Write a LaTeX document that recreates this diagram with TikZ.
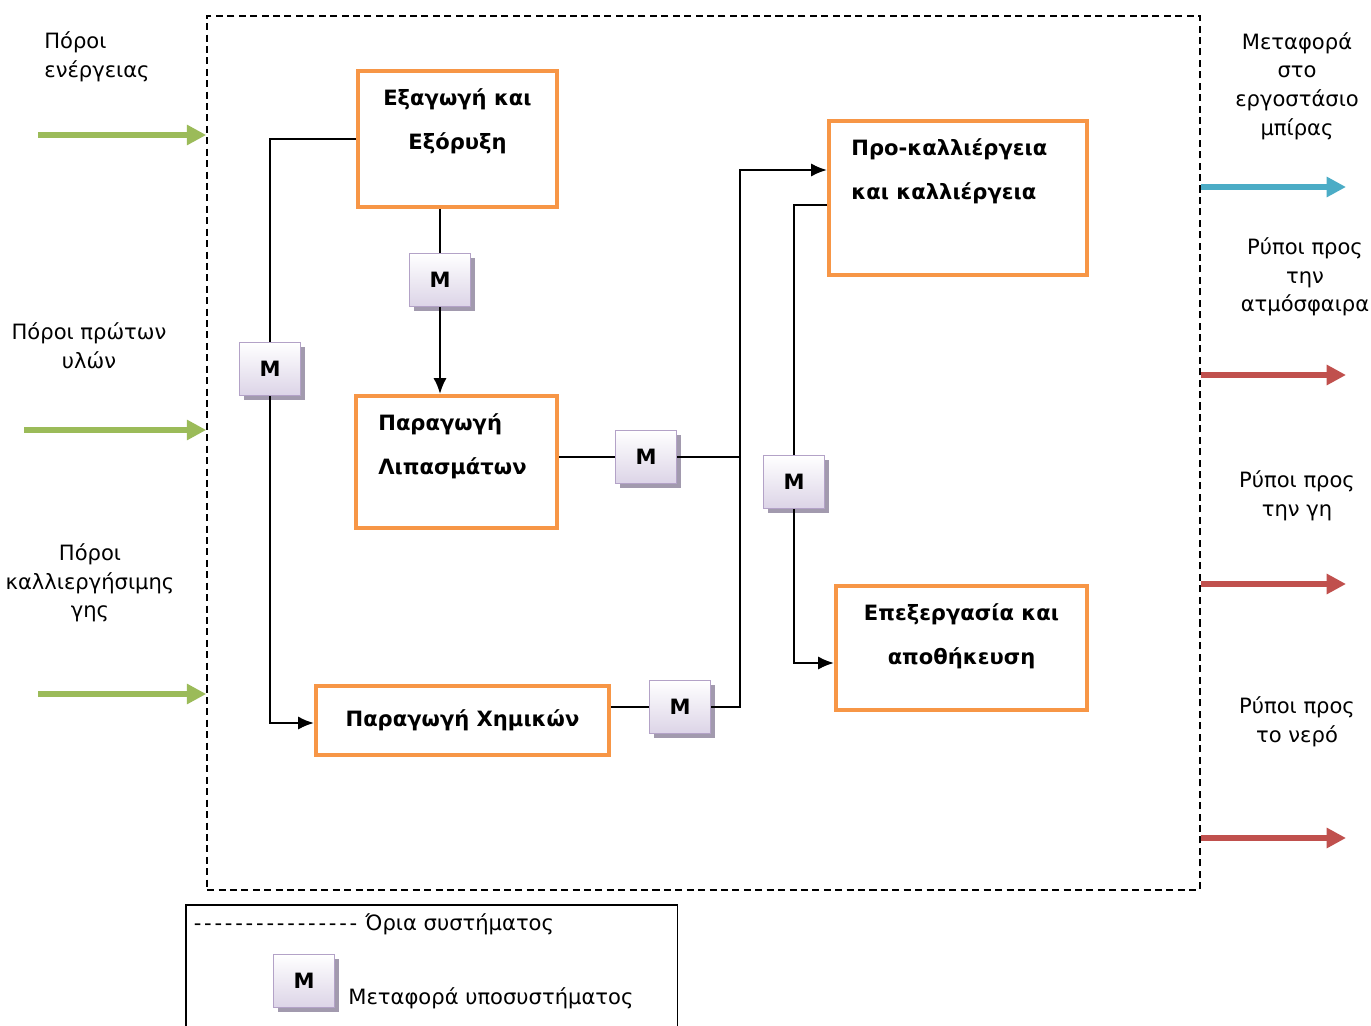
\documentclass[tikz,border=0pt]{standalone}
\usepackage{fontspec}
\setmainfont{DejaVu Sans}
\usetikzlibrary{arrows.meta, positioning, shadows}
\definecolor{stageorange}{HTML}{F79646}
\definecolor{mborder}{HTML}{B3A2C7}
\definecolor{mlow}{HTML}{DCD4E7}
\definecolor{mshadow}{HTML}{A29AAE}
\definecolor{ingreen}{HTML}{9BBB59}
\definecolor{outblue}{HTML}{4BACC6}
\definecolor{outred}{HTML}{C0504D}
\newcommand{\legdash}{\makebox[0.208cm]{-}}
\tikzset{
  stage/.style={rectangle,draw=stageorange,line width=2.3pt,inner sep=0pt},
  stagelabel/.style={font=\fontsize{12}{25}\selectfont\bfseries,align=center,inner sep=0pt},
  mbox/.style={rectangle,draw=mborder,line width=1pt,top color=white,bottom color=mlow,
    minimum width=1.22cm,minimum height=1.06cm,font=\fontsize{12}{15}\selectfont\bfseries,
    drop shadow={shadow xshift=0.09cm,shadow yshift=-0.09cm,fill=mshadow,opacity=1}},
  link/.style={line width=1.3pt},
  line/.style={link,-{Latex[length=9pt,width=7.5pt]}},
  flow/.style={-{Triangle[length=11pt,width=11pt]},line width=3.2pt},
  side/.style={align=center,inner sep=0pt},
  boundary/.style={rectangle,draw,dash pattern=on 4pt off 2.5pt,line width=1pt}
}

\begin{document}
\begin{tikzpicture}[x=0.02cm,y=-0.02cm,font=\fontsize{12}{16.3}\selectfont]
\useasboundingbox (0,0) rectangle (1371,1026);

% system boundary
\node[boundary,minimum width=19.86cm,minimum height=17.48cm] (sys) at (703.5,453) {};

% stages
\node[stage,minimum width=3.98cm,minimum height=2.72cm,anchor=north west,
  label={[stagelabel,anchor=north,yshift=-0.38cm]north:{Εξαγωγή και\\Εξόρυξη}}] (extr) at (356,69) {};
\node[stage,minimum width=4.02cm,minimum height=2.64cm,anchor=north west,
  label={[stagelabel,align=left,anchor=north west,xshift=0.48cm,yshift=-0.38cm]north west:{Παραγωγή\\Λιπασμάτων}}] (fert) at (354,394) {};
\node[stage,minimum width=5.86cm,minimum height=1.38cm,anchor=north west,
  font=\fontsize{12}{15}\selectfont\bfseries] (chem) at (314,684) {Παραγωγή Χημικών};
\node[stage,minimum width=5.16cm,minimum height=3.08cm,anchor=north west,
  label={[stagelabel,align=left,anchor=north west,xshift=0.48cm,yshift=-0.38cm]north west:{Προ-καλλιέργεια\\και καλλιέργεια}}] (cult) at (827,119) {};
\node[stage,minimum width=5.02cm,minimum height=2.48cm,anchor=north west,
  label={[stagelabel,anchor=north,yshift=-0.38cm]north:{Επεξεργασία και\\αποθήκευση}}] (proc) at (834,584) {};

% transport
\node[mbox] (m1) at (440,280) {M};
\node[mbox] (m2) at (270,369) {M};
\node[mbox] (m3) at (646,457) {M};
\node[mbox] (m4) at (794,482) {M};
\node[mbox] (m5) at (680,707) {M};

\coordinate (jtop) at (740,170);
\coordinate (jbot) at (740,707);

\draw[link] (extr.south -| m1) -- (m1.north);
\draw[line] (m1.south) -- (m1.south |- fert.north);
\draw[link] (extr.west) -| (m2.north);
\draw[line] (m2.south) |- ([yshift=-0.05cm]chem.west);
\draw[link] (fert.east |- m3.west) -- (m3.west);
\draw[link] (m3.east) -- (m3.east -| jtop);
\draw[link] (chem.east |- m5.west) -- (m5.west);
\draw[line] (m5.east) -- (jbot) -- (jtop) -- (jtop -| cult.west);
\draw[link] ([yshift=-0.14cm]cult.west) -| (m4.north);
\draw[line] (m4.south) |- ([yshift=-0.3cm]proc.west);

% inputs
\node[side,align=left,anchor=west] (in-energy) at (44,57) {Πόροι\\ενέργειας};
\node[side] (in-raw) at (89,346) {Πόροι πρώτων\\υλών};
\node[side] (in-land) at (90,583) {Πόροι\\καλλιεργήσιμης\\γης};
\coordinate (e-start) at (38,135);
\coordinate (r-start) at (24,430);
\coordinate (l-start) at (38,694);
\draw[flow,ingreen] (e-start) -- (e-start -| sys.west);
\draw[flow,ingreen] (r-start) -- (r-start -| sys.west);
\draw[flow,ingreen] (l-start) -- (l-start -| sys.west);

% outputs
\node[side] (out-beer) at (1297,86) {Μεταφορά\\στο\\εργοστάσιο\\μπίρας};
\node[side] (out-air) at (1305,277) {Ρύποι προς\\την\\ατμόσφαιρα};
\node[side] (out-soil) at (1297,496) {Ρύποι προς\\την γη};
\node[side] (out-water) at (1297,722) {Ρύποι προς\\το νερό};
\coordinate (b-end) at (1346,187);
\coordinate (a-end) at (1346,375);
\coordinate (s-end) at (1346,584);
\coordinate (w-end) at (1346,838);
\draw[flow,outblue] (sys.east |- b-end) -- (b-end);
\draw[flow,outred] (sys.east |- a-end) -- (a-end);
\draw[flow,outred] (sys.east |- s-end) -- (s-end);
\draw[flow,outred] (sys.east |- w-end) -- (w-end);

% legend
\node[minimum width=9.82cm,minimum height=2.6cm,anchor=north west] (legend) at (186,905) {};
\draw[line width=1pt] (legend.south west) -- (legend.north west) -- (legend.north east) -- (legend.south east);
\node[anchor=west,inner sep=0pt] (leg-dash) at (192,924) {\legdash\legdash\legdash\legdash\legdash\legdash\legdash\legdash\legdash\legdash\legdash\legdash\legdash\legdash\legdash\legdash{} Όρια συστήματος};
\node[mbox] (leg-m) at (304,981) {M};
\node[anchor=west,inner sep=0pt] (leg-text) at (348,998) {Μεταφορά υποσυστήματος};
\end{tikzpicture}
\end{document}
